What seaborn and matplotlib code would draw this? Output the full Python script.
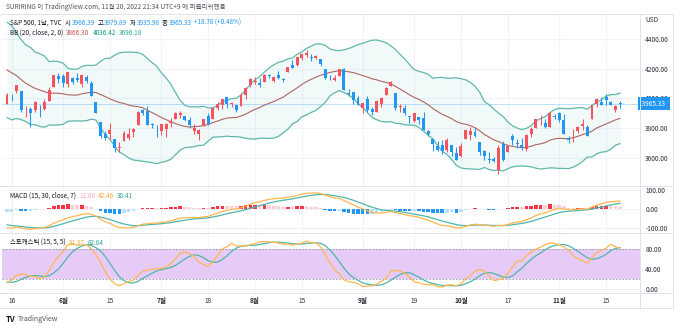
import numpy as np
import pandas as pd
import matplotlib
matplotlib.use('Agg')
import matplotlib.pyplot as plt
import matplotlib.transforms as mtrans
from matplotlib.lines import Line2D
import seaborn as sns

# ---------------- data: S&P 500 daily (TVC) ----------------
# warm-up history (used only for indicator values, not drawn)
mar_close = [4306.26, 4386.54, 4363.49, 4328.87, 4201.09, 4170.70, 4277.88, 4259.52, 4204.31,
             4173.11, 4262.45, 4357.86, 4411.67, 4463.12, 4461.18, 4511.61, 4456.24, 4520.16,
             4543.06, 4575.52, 4631.60, 4602.45, 4530.41]
warm_close = [4545.86, 4582.64, 4525.12, 4481.15, 4500.21, 4488.28, 4412.53, 4397.45, 4446.59,
              4392.59, 4391.69, 4462.21, 4459.45, 4393.66, 4271.78, 4296.12, 4175.20, 4183.96,
              4287.50, 4131.93, 4155.38, 4175.48, 4300.17, 4146.87, 4123.34, 3991.24, 4001.05,
              3935.18, 3930.08]
warm_high = [4549, 4583, 4593, 4504, 4521, 4520, 4464, 4471, 4452, 4453, 4410, 4471, 4489, 4513,
             4386, 4299, 4278, 4240, 4309, 4270, 4169, 4200, 4308, 4270, 4157, 4081, 4068, 4050, 3964]
warm_low = [4507, 4539, 4514, 4450, 4451, 4482, 4408, 4381, 4395, 4390, 4364, 4390, 4455, 4384,
            4267, 4200, 4175, 4170, 4188, 4124, 4062, 4147, 4155, 4106, 4067, 3975, 3958, 3928, 3859]

# drawn candles: 2022-05-13 .. 2022-11-18
opens = [3963.90, 4013.02, 4052.00, 4051.98, 3899.00, 3927.76, 3919.42, 3942.94, 3929.59, 3984.60, 4077.43, 4151.09,
         4149.78, 4095.41, 4137.57, 4134.72, 4096.47, 4147.12, 4101.65, 3974.39, 3838.15, 3764.05, 3764.05, 3728.18,
         3665.90, 3715.31, 3733.89, 3774.71, 3821.75, 3920.76, 3913.00, 3825.09, 3785.99,
         3781.00, 3792.61, 3831.98, 3858.85, 3888.26, 3880.94, 3851.95, 3779.67, 3763.99, 3818.00, 3883.79, 3860.73,
         3935.32, 3955.47, 4007.44, 3965.72, 3953.22, 3951.43, 4026.13, 4087.33,
         4112.38, 4104.21, 4107.96, 4154.85, 4115.87, 4155.93, 4133.11, 4181.02, 4227.40, 4225.02, 4269.37, 4290.46,
         4280.40, 4273.13, 4266.31, 4195.08, 4133.09, 4126.55, 4153.26, 4198.74, 4034.58, 4041.25, 4000.67,
         3936.73, 3994.66, 3930.89, 3909.43, 3959.94, 4022.94, 4083.67, 4037.12, 3940.73, 3932.41, 3880.95, 3849.91,
         3875.23, 3871.40, 3782.36, 3727.14, 3682.72, 3686.44, 3651.94, 3687.01, 3633.48,
         3609.78, 3726.46, 3753.25, 3771.97, 3706.74, 3647.51, 3595.86, 3590.83, 3520.37, 3690.41, 3638.65, 3746.26,
         3703.11, 3689.05, 3657.10, 3762.01, 3799.44, 3825.97, 3834.69, 3808.26, 3881.85,
         3901.79, 3852.90, 3733.25, 3766.98, 3780.71, 3817.02, 3810.94, 3859.89, 3963.72, 3977.97, 4006.41, 3976.82,
         3919.26, 3966.39]
highs = [4038.88, 4026.97, 4090.72, 4051.98, 3945.96, 3943.42, 3981.88, 3955.68, 3999.33, 4075.14, 4158.49, 4168.34,
         4166.54, 4177.51, 4142.67, 4168.78, 4164.86, 4160.14, 4119.10, 3974.39, 3838.15, 3778.18, 3837.56, 3728.18,
         3707.71, 3779.65, 3801.79, 3802.58, 3913.65, 3927.72, 3945.86, 3836.50, 3818.99,
         3829.82, 3832.19, 3870.91, 3910.63, 3918.50, 3880.94, 3873.41, 3829.44, 3796.41, 3863.62, 3902.44, 3939.81,
         3974.13, 3999.29, 4012.44, 3975.30, 3953.22, 4039.56, 4078.95, 4140.15,
         4144.95, 4140.47, 4167.66, 4161.29, 4151.58, 4186.62, 4137.30, 4211.03, 4257.91, 4280.47, 4301.79, 4325.28,
         4302.18, 4292.53, 4266.31, 4195.08, 4159.77, 4156.56, 4200.54, 4203.04, 4062.99, 4044.98, 4015.37,
         3970.23, 4018.43, 3942.55, 3987.89, 4010.50, 4076.81, 4119.28, 4037.12, 3961.94, 3959.14, 3880.95, 3900.45,
         3876.01, 3907.07, 3790.68, 3727.14, 3715.67, 3717.53, 3736.74, 3687.01, 3671.44,
         3698.35, 3791.92, 3806.91, 3797.93, 3706.74, 3652.17, 3640.66, 3608.34, 3685.41, 3712.00, 3689.73, 3762.79,
         3728.58, 3736.00, 3757.89, 3810.74, 3862.85, 3886.15, 3859.95, 3905.42, 3893.73,
         3911.79, 3894.44, 3750.59, 3796.34, 3813.95, 3859.40, 3818.20, 3958.33, 4001.48, 4008.97, 4028.84, 3983.09,
         3954.33, 3979.89]
lows = [3963.90, 3985.91, 4033.93, 3911.91, 3876.58, 3810.32, 3909.04, 3875.13, 3925.03, 3984.60, 4077.43, 4104.88,
        4073.85, 4074.37, 4098.67, 4109.18, 4080.19, 4107.20, 4017.17, 3900.16, 3734.30, 3722.30, 3722.30, 3639.77,
        3636.87, 3715.31, 3717.69, 3743.52, 3821.75, 3889.66, 3820.14, 3799.02, 3738.67,
        3752.10, 3742.06, 3809.37, 3858.85, 3869.34, 3847.22, 3802.36, 3759.07, 3721.56, 3817.18, 3818.63, 3860.73,
        3922.03, 3927.64, 3938.85, 3943.46, 3910.74, 3951.43, 3992.97, 4079.22,
        4096.02, 4079.81, 4107.96, 4135.42, 4107.31, 4128.97, 4112.09, 4177.26, 4201.41, 4219.78, 4256.90, 4277.77,
        4253.08, 4261.98, 4218.70, 4129.86, 4124.03, 4119.97, 4147.59, 4057.66, 4017.42, 3965.21, 3954.53,
        3903.65, 3906.21, 3886.75, 3906.03, 3944.81, 4022.94, 4083.67, 3921.73, 3912.07, 3888.28, 3837.08, 3838.50,
        3827.54, 3789.49, 3749.64, 3647.47, 3644.76, 3623.29, 3640.61, 3610.40, 3584.13,
        3604.93, 3726.46, 3722.66, 3739.22, 3620.73, 3588.10, 3568.45, 3573.86, 3491.58, 3579.68, 3638.65, 3686.53,
        3666.51, 3656.44, 3647.42, 3741.65, 3799.44, 3824.07, 3803.79, 3808.26, 3863.18,
        3843.80, 3758.68, 3698.15, 3708.84, 3764.70, 3786.28, 3744.22, 3859.89, 3944.82, 3956.40, 3953.17, 3954.34,
        3906.54, 3935.98]
closes = [4023.89, 4008.01, 4088.85, 3923.68, 3900.79, 3901.36, 3973.75, 3941.48, 3978.73, 4057.84, 4158.24, 4132.15,
          4101.23, 4176.82, 4108.54, 4121.43, 4160.68, 4115.77, 4017.82, 3900.86, 3749.63, 3735.48, 3789.99, 3666.77,
          3674.84, 3764.79, 3759.89, 3795.73, 3911.74, 3900.11, 3821.55, 3818.83, 3785.38,
          3825.33, 3831.39, 3845.08, 3902.62, 3899.38, 3854.43, 3818.80, 3801.78, 3790.38, 3863.16, 3830.85, 3936.69,
          3959.90, 3998.95, 3961.63, 3966.84, 3921.05, 4023.61, 4072.43, 4130.29,
          4118.63, 4091.19, 4155.17, 4151.94, 4145.19, 4140.06, 4122.47, 4210.24, 4207.27, 4280.15, 4297.14, 4305.20,
          4274.04, 4283.74, 4228.48, 4137.99, 4128.73, 4140.77, 4199.12, 4057.66, 4030.61, 3986.16, 3955.00,
          3966.85, 3924.26, 3908.19, 3979.87, 4006.18, 4067.36, 4110.41, 3932.69, 3946.01, 3901.35, 3873.33, 3899.89,
          3855.93, 3789.93, 3757.99, 3693.23, 3655.04, 3647.29, 3719.04, 3640.47, 3585.62,
          3678.43, 3790.93, 3783.28, 3744.52, 3639.66, 3612.39, 3588.84, 3577.03, 3669.91, 3583.07, 3677.95, 3719.98,
          3695.16, 3665.78, 3752.75, 3797.34, 3859.11, 3830.60, 3807.30, 3901.06, 3871.98,
          3856.10, 3759.69, 3719.89, 3770.55, 3806.80, 3828.11, 3748.57, 3956.37, 3992.93, 3957.25, 3991.73, 3958.79,
          3946.55, 3965.33]

holidays = ['2022-05-30', '2022-06-20', '2022-07-04', '2022-09-05']
tick_dates = ['2022-05-16', '2022-06-01', '2022-06-15', '2022-07-01', '2022-07-18', '2022-08-01', '2022-08-15',
              '2022-09-01', '2022-09-19', '2022-10-03', '2022-10-17', '2022-11-01', '2022-11-15']
tick_labels = ['16', '6월', '15', '7월', '18', '8월', '15', '9월', '19', '10월', '17', '11월', '15']
price_ticks = [4400, 4200, 4000, 3800, 3600]
macd_ticks = [100, 0, -100]
stoch_ticks = [80, 40, 0]
last_price = 3965.33

# ---------------- indicators ----------------
dates = pd.bdate_range('2022-05-13', '2022-11-18')
dates = dates[~dates.isin(pd.to_datetime(holidays))]
assert len(dates) == len(closes) == len(opens) == len(highs) == len(lows)
n_hist = len(mar_close) + len(warm_close)
c_all = pd.Series(mar_close + warm_close + closes, dtype=float)
h_all = pd.Series([np.nan] * len(mar_close) + warm_high + highs, dtype=float)
l_all = pd.Series([np.nan] * len(mar_close) + warm_low + lows, dtype=float)

bb_mid = c_all.rolling(20).mean()
bb_sd = c_all.rolling(20).std(ddof=0)
bb_up = bb_mid + 2 * bb_sd
bb_lo = bb_mid - 2 * bb_sd
macd = c_all.ewm(span=15, adjust=False).mean() - c_all.ewm(span=30, adjust=False).mean()
sig = macd.ewm(span=7, adjust=False).mean()
hist = macd - sig
raw = 100 * (c_all - l_all.rolling(15).min()) / (h_all.rolling(15).max() - l_all.rolling(15).min())
k = raw.rolling(5).mean()
d = k.rolling(5).mean()

sl = slice(n_hist, None)
x = np.arange(len(closes))
df = pd.DataFrame({'x': x, 'mid': bb_mid[sl].values, 'up': bb_up[sl].values, 'lo': bb_lo[sl].values,
                   'macd': macd[sl].values, 'sig': sig[sl].values, 'hist': hist[sl].values,
                   'k': k[sl].values, 'd': d[sl].values})

# ---------------- figure ----------------
sns.set_theme(style='white')
plt.rcParams['font.family'] = ['Noto Sans CJK KR', 'DejaVu Sans']
W, H = 680, 328
fig = plt.figure(figsize=(W / 100, H / 100), dpi=100)
fig.patch.set_facecolor('white')

def axpx(x0, y0, x1, y1):
    a = fig.add_axes([x0 / W, 1 - y1 / H, (x1 - x0) / W, (y1 - y0) / H])
    a.set_facecolor('none')
    for s in a.spines.values():
        s.set_visible(False)
    return a

XL, XR = 2, 640
PX0, PXS = 7.0, 4.68   # pixel of first candle, pixels per bar
xlim = ((XL - PX0) / PXS, (XR - PX0) / PXS)
ax1 = axpx(XL, 14, XR, 186)
ax2 = axpx(XL, 186, XR, 233)
ax3 = axpx(XL, 233, XR, 293)

tick_pos = [int(np.where(dates == pd.Timestamp(t))[0][0]) for t in tick_dates]
GRID = '#f0f3fa'
TXT = '#131722'
for a, ticks, lim in [(ax1, price_ticks, (3411, 4568)), (ax2, macd_ticks, (-126, 121)), (ax3, stoch_ticks, (-8, 112))]:
    a.set_xlim(*xlim)
    a.set_ylim(*lim)
    for t in ticks:
        a.axhline(t, color=GRID, lw=0.8, zorder=0)
    for t in tick_pos:
        a.axvline(t, color=GRID, lw=0.8, zorder=0)
    a.yaxis.tick_right()
    a.set_yticks(ticks)
    a.set_yticklabels([f'{t:.2f}' for t in ticks])
    a.tick_params(axis='y', length=0, pad=3.8, labelsize=4.7, labelcolor='#2a2e39')
    a.set_xticks([])
    a.set_xlabel('')
    a.set_ylabel('')

# ---- main pane ----
UPC, DNC = '#f7525f', '#2196f3'
o = np.array(opens); c = np.array(closes); hi = np.array(highs); lo = np.array(lows)
col = np.where(c >= o, UPC, DNC)
ax1.fill_between(x, df['up'], df['lo'], color='#26a69a', alpha=0.06, lw=0, zorder=1)
sns.lineplot(data=df, x='x', y='up', ax=ax1, color='#5fb8a9', lw=0.9, zorder=2)
sns.lineplot(data=df, x='x', y='lo', ax=ax1, color='#5fb8a9', lw=0.9, zorder=2)
sns.lineplot(data=df, x='x', y='mid', ax=ax1, color='#b0645f', lw=0.8, zorder=2)
ax1.axhline(last_price, color='#2196f3', lw=0.6, alpha=0.35, zorder=1)
ax1.vlines(x, lo, hi, colors=col, lw=0.75, zorder=3)
ax1.bar(x, np.maximum(np.abs(c - o), 2.5), bottom=np.minimum(o, c), width=0.64, color=col, lw=0, zorder=4)
ax1.set_xlabel(''); ax1.set_ylabel('')
ax1.text(1.0, last_price, ' 3965.33  ', transform=mtrans.blended_transform_factory(ax1.transAxes, ax1.transData),
         ha='left', va='center', fontsize=4.7, color='white', zorder=10, clip_on=False,
         bbox=dict(boxstyle='square,pad=0.35', fc='#2196f3', ec='none'))

# ---- MACD pane ----
hv = df['hist'].values
prev = np.concatenate([[hist[n_hist - 1]], hv[:-1]])
hcol = np.where(hv >= 0, np.where(hv >= prev, '#f23645', '#ffcdd2'),
                np.where(hv < prev, '#2196f3', '#bbdefb'))
ax2.bar(x, hv, width=0.75, color=hcol, lw=0, zorder=2)
sns.lineplot(data=df, x='x', y='sig', ax=ax2, color='#4db6ac', lw=0.9, zorder=3)
sns.lineplot(data=df, x='x', y='macd', ax=ax2, color='#ffb74d', lw=0.9, zorder=3)
ax2.set_xlabel(''); ax2.set_ylabel('')

# ---- Stochastic pane ----
ax3.axhspan(20, 80, color='#e6cbf8', lw=0, zorder=1)
for lvl in (80, 20):
    ax3.axhline(lvl, color='#9598a1', lw=0.6, ls=(0, (2, 2)), zorder=2)
sns.lineplot(data=df, x='x', y='d', ax=ax3, color='#4db6ac', lw=0.9, zorder=3)
sns.lineplot(data=df, x='x', y='k', ax=ax3, color='#ffb74d', lw=0.9, zorder=3)
ax3.set_xlabel(''); ax3.set_ylabel('')
ax3.set_xticks(tick_pos)
ax3.set_xticklabels(tick_labels)
ax3.tick_params(axis='x', length=0, pad=3.2, labelsize=4.7, labelcolor='#2a2e39')
for lab in ax3.get_xticklabels():
    if lab.get_text().endswith('월'):
        lab.set_fontweight('bold')

# ---- frame lines ----
LC = '#e0e3eb'
def hline(y, x0=0, x1=673):
    fig.add_artist(Line2D([x0 / W, x1 / W], [1 - y / H, 1 - y / H], color=LC, lw=0.7))
def vline(xp, y0=14, y1=308):
    fig.add_artist(Line2D([xp / W, xp / W], [1 - y0 / H, 1 - y1 / H], color=LC, lw=0.7))
for yy in (14, 186, 233, 293, 308):
    hline(yy)
vline(640); vline(673)

# ---- texts ----
renderer = fig.canvas.get_renderer()
FS = 4.6

def T(xp, yp, s, color=TXT, size=FS, weight='normal'):
    t = fig.text(xp / W, 1 - yp / H, s, color=color, fontsize=size, fontweight=weight, ha='left', va='center')
    return t

def chain(xp, yp, parts, size=FS):
    """parts: (text, colour, gap in px after the text)"""
    for s, colr, gap in parts:
        t = T(xp, yp, s, colr, size)
        w = t.get_window_extent(renderer=renderer).width
        xp += w + gap

T(6, 7, 'SURIRING 이 TradingView.com, 11월 20, 2022 21:34 UTC+9 에 퍼블리쉬했음', '#50535e', 4.7)
T(645, 20, 'USD', '#2a2e39', 4.7)
chain(10, 23, [('S&P 500, 1날, TVC', TXT, 3.5),
               ('시', TXT, 0.8), ('3966.39', DNC, 2.5),
               ('고', TXT, 0.8), ('3979.89', DNC, 2.5),
               ('저', TXT, 0.8), ('3935.98', DNC, 2.5),
               ('종', TXT, 0.8), ('3965.33', DNC, 2.5),
               ('+18.78 (+0.48%)', DNC, 0)])
chain(10, 33, [('BB (20, close, 2, 0)', TXT, 3),
               ('3866.30', '#c0504d', 3), ('4036.42', '#089981', 3), ('3696.18', '#26a69a', 0)])
chain(10, 196, [('MACD (15, 30, close, 7)', TXT, 3),
                ('12.06', '#f7a9b4', 3), ('42.46', '#f5a742', 3), ('30.41', '#26a69a', 0)])
chain(10, 243, [('스토캐스틱 (15, 5, 5)', TXT, 3),
                ('81.37', '#f5a742', 3), ('82.84', '#26a69a', 0)])
T(6, 319, 'TV', TXT, 5.6, 'bold')
T(18, 319, 'TradingView', '#50535e', 5.0)

fig.savefig('out.png', dpi=100, facecolor='white')
